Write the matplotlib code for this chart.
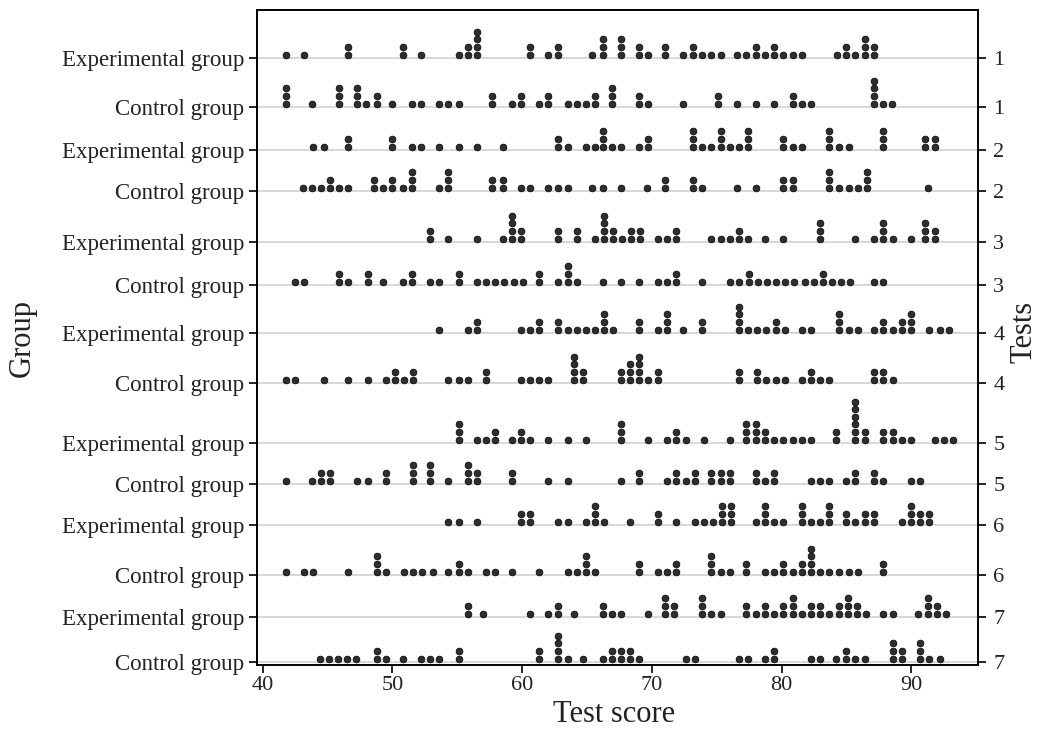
import matplotlib
matplotlib.use("Agg")
import matplotlib.pyplot as plt

plt.rcParams['font.family'] = ['Liberation Serif', 'DejaVu Serif']

# (score, number of stacked dots) for each row
exp1 = [(41.8, 1), (43.2, 1), (46.6, 2), (50.8, 2), (52.2, 1), (55.1, 1), (55.8, 2), (56.5, 4),
        (60.6, 2), (62.0, 1), (62.8, 2), (65.4, 1), (66.2, 3), (67.6, 3), (69.0, 2), (69.7, 1),
        (71.0, 2), (72.4, 1), (73.2, 2), (73.9, 1), (74.6, 1), (75.3, 1), (76.6, 1), (77.3, 1),
        (78.0, 2), (78.7, 1), (79.4, 2), (80.1, 1), (80.9, 1), (81.6, 1), (84.3, 1), (85.0, 2),
        (85.7, 1), (86.4, 3), (87.1, 2)]
ctl1 = [(41.8, 3), (43.8, 1), (45.9, 3), (47.3, 3), (48.0, 1), (48.8, 2), (50.0, 1), (51.5, 1),
        (52.2, 1), (53.6, 1), (54.3, 1), (55.1, 1), (57.7, 2), (59.2, 1), (59.9, 2), (61.3, 1),
        (62.0, 2), (63.5, 1), (64.2, 1), (64.9, 1), (65.6, 2), (66.9, 3), (69.0, 2), (69.7, 1),
        (72.4, 1), (75.1, 2), (76.6, 1), (78.0, 1), (79.4, 1), (80.9, 2), (81.6, 1), (82.3, 1),
        (87.1, 4), (87.8, 1), (88.5, 1)]
exp2 = [(43.9, 1), (44.7, 1), (46.6, 2), (50.0, 2), (51.5, 1), (52.2, 1), (53.6, 1), (55.1, 1),
        (56.5, 1), (58.5, 1), (62.8, 2), (63.5, 1), (64.9, 1), (65.6, 1), (66.2, 3), (66.9, 1),
        (67.6, 1), (69.0, 1), (69.7, 2), (73.2, 3), (73.9, 1), (74.6, 1), (75.3, 3), (76.0, 1),
        (76.7, 1), (77.4, 3), (80.1, 2), (80.9, 1), (81.6, 1), (83.7, 3), (84.4, 1), (85.2, 1),
        (87.8, 3), (91.1, 2), (91.8, 2)]
ctl2 = [(43.1, 1), (43.8, 1), (44.5, 1), (45.2, 2), (45.9, 1), (46.6, 1), (48.6, 2), (49.3, 1),
        (50.0, 2), (50.8, 1), (51.5, 3), (53.6, 1), (54.3, 3), (57.7, 2), (58.5, 2), (59.9, 1),
        (60.6, 1), (62.0, 1), (62.8, 1), (63.5, 1), (65.4, 1), (66.2, 1), (67.6, 1), (69.6, 1),
        (71.0, 2), (73.2, 2), (73.9, 1), (76.6, 1), (78.0, 1), (80.1, 2), (80.9, 2), (83.7, 3),
        (84.4, 1), (85.2, 1), (85.9, 1), (86.6, 3), (91.3, 1)]
exp3 = [(52.9, 2), (54.3, 1), (56.5, 1), (58.5, 1), (59.2, 4), (59.9, 2), (62.8, 2), (64.2, 2),
        (65.6, 1), (66.3, 4), (67.0, 2), (67.7, 1), (68.4, 2), (69.1, 2), (70.5, 1), (71.2, 1),
        (71.9, 2), (74.6, 1), (75.3, 1), (76.0, 1), (76.7, 2), (77.4, 1), (78.7, 1), (80.1, 1),
        (83.0, 3), (85.7, 1), (87.1, 1), (87.8, 3), (88.6, 1), (90.0, 1), (91.1, 3), (91.8, 2)]
ctl3 = [(42.5, 1), (43.2, 1), (45.9, 2), (46.6, 1), (48.1, 2), (49.3, 1), (50.8, 1), (51.5, 2),
        (52.9, 1), (53.6, 1), (55.1, 2), (56.5, 1), (57.2, 1), (57.9, 1), (58.6, 1), (59.4, 1),
        (60.1, 1), (61.3, 2), (62.8, 1), (63.5, 3), (64.2, 1), (66.2, 1), (67.6, 1), (69.0, 1),
        (70.5, 1), (71.2, 1), (71.9, 2), (73.9, 1), (76.0, 1), (76.7, 1), (77.5, 2), (78.2, 1),
        (78.9, 1), (79.6, 1), (80.3, 1), (81.0, 1), (81.8, 1), (82.5, 1), (83.2, 2), (83.9, 1),
        (84.6, 1), (85.3, 1), (87.1, 1), (87.8, 1)]
exp4 = [(53.6, 1), (55.8, 1), (56.5, 2), (59.9, 1), (60.6, 1), (61.3, 2), (62.8, 2), (63.5, 1),
        (64.2, 1), (64.9, 1), (65.6, 1), (66.3, 3), (67.0, 1), (69.0, 2), (70.5, 1), (71.2, 3),
        (72.4, 1), (73.9, 2), (76.7, 4), (77.4, 1), (78.1, 1), (78.8, 1), (79.6, 2), (80.3, 1),
        (81.6, 1), (82.3, 1), (84.4, 3), (85.2, 1), (85.9, 1), (87.1, 1), (87.8, 2), (88.6, 1),
        (89.3, 2), (90.0, 3), (91.4, 1), (92.2, 1), (92.9, 1)]
ctl4 = [(41.8, 1), (42.5, 1), (44.7, 1), (46.6, 1), (48.1, 1), (49.5, 1), (50.2, 2), (50.9, 1),
        (51.6, 2), (54.3, 1), (55.1, 1), (55.8, 1), (57.2, 2), (59.9, 1), (60.6, 1), (61.3, 1),
        (62.0, 1), (64.0, 4), (64.7, 2), (67.6, 2), (68.3, 3), (69.0, 4), (69.7, 1), (70.5, 2),
        (76.7, 2), (78.1, 2), (78.8, 1), (79.6, 1), (80.3, 1), (81.6, 1), (82.3, 2), (83.0, 1),
        (83.7, 1), (87.1, 2), (87.8, 2), (88.6, 1)]
exp5 = [(55.1, 3), (56.5, 1), (57.2, 1), (57.9, 2), (59.2, 1), (59.9, 2), (60.6, 1), (62.0, 1),
        (63.5, 1), (64.9, 1), (67.6, 3), (69.7, 1), (71.2, 1), (71.9, 2), (72.6, 1), (74.0, 1),
        (76.0, 1), (77.3, 3), (78.0, 3), (78.7, 2), (79.4, 1), (80.1, 1), (80.9, 1), (81.6, 1),
        (82.3, 1), (84.2, 2), (85.7, 6), (86.4, 2), (87.8, 2), (88.6, 2), (89.3, 1), (90.0, 1),
        (91.8, 1), (92.5, 1), (93.2, 1)]
ctl5 = [(41.8, 1), (43.8, 1), (44.5, 2), (45.2, 2), (47.3, 1), (48.1, 1), (49.5, 2), (51.6, 3),
        (52.9, 3), (54.3, 1), (55.8, 3), (56.5, 2), (59.2, 2), (62.0, 1), (63.5, 1), (67.6, 1),
        (69.0, 2), (71.2, 1), (71.9, 2), (72.6, 1), (73.3, 2), (74.6, 2), (75.3, 2), (76.0, 2),
        (78.0, 2), (78.7, 1), (79.4, 2), (82.3, 1), (83.0, 1), (83.7, 1), (85.0, 1), (85.7, 2),
        (87.1, 2), (87.8, 1), (90.0, 1), (90.7, 1)]
exp6 = [(54.3, 1), (55.1, 1), (56.5, 1), (59.9, 2), (60.6, 2), (62.8, 1), (63.5, 1), (64.9, 1),
        (65.6, 3), (66.3, 1), (68.3, 1), (70.5, 2), (71.9, 1), (73.3, 1), (74.0, 1), (74.7, 1),
        (75.4, 3), (76.1, 3), (78.0, 1), (78.7, 3), (79.4, 1), (80.1, 1), (81.6, 3), (82.3, 1),
        (83.0, 1), (83.7, 3), (85.0, 2), (85.7, 1), (86.4, 2), (87.1, 2), (89.3, 1), (90.0, 3),
        (90.7, 2), (91.4, 2)]
ctl6 = [(41.8, 1), (43.2, 1), (43.9, 1), (46.6, 1), (48.8, 3), (49.5, 1), (50.9, 1), (51.6, 1),
        (52.3, 1), (53.1, 1), (54.3, 1), (55.1, 2), (55.8, 1), (57.2, 1), (57.9, 1), (59.2, 1),
        (61.3, 1), (63.5, 1), (64.2, 1), (64.9, 3), (65.6, 1), (69.0, 2), (70.5, 1), (71.2, 1),
        (71.9, 2), (74.6, 3), (75.3, 1), (76.0, 1), (77.3, 2), (78.7, 1), (79.4, 1), (80.1, 2),
        (80.9, 1), (81.6, 2), (82.3, 4), (83.0, 1), (83.7, 1), (84.4, 1), (85.2, 1), (85.9, 1),
        (87.8, 2)]
exp7 = [(55.8, 2), (57.0, 1), (60.6, 1), (62.0, 1), (62.8, 2), (64.0, 1), (66.2, 2), (66.9, 1),
        (67.6, 1), (69.7, 1), (71.0, 3), (71.7, 2), (73.9, 3), (74.6, 1), (75.3, 1), (77.3, 2),
        (78.0, 1), (78.7, 2), (79.4, 1), (80.1, 2), (80.9, 3), (81.6, 1), (82.3, 2), (83.0, 2),
        (83.7, 1), (84.4, 2), (85.1, 3), (85.8, 2), (86.5, 1), (87.8, 1), (88.6, 1), (90.5, 1),
        (91.3, 3), (92.0, 2), (92.7, 1)]
ctl7 = [(44.4, 1), (45.1, 1), (45.8, 1), (46.5, 1), (47.2, 1), (48.8, 2), (49.5, 1), (50.8, 1),
        (52.2, 1), (52.9, 1), (53.6, 1), (55.1, 2), (61.3, 2), (62.8, 4), (63.5, 1), (64.7, 1),
        (66.2, 1), (66.9, 2), (67.6, 2), (68.3, 2), (69.0, 1), (72.6, 1), (73.3, 1), (76.7, 1),
        (77.4, 1), (78.7, 1), (79.4, 2), (82.3, 1), (83.0, 1), (84.2, 1), (85.0, 2), (85.7, 1),
        (86.4, 1), (88.6, 3), (89.3, 2), (90.7, 3), (91.4, 1), (92.2, 1)]

rows = [exp1, ctl1, exp2, ctl2, exp3, ctl3, exp4, ctl4, exp5, ctl5, exp6, ctl6, exp7, ctl7]
group_labels = ['Experimental group', 'Control group'] * 7
test_labels = ['1', '1', '2', '2', '3', '3', '4', '4', '5', '5', '6', '6', '7', '7']
x_ticks = [40, 50, 60, 70, 80, 90]

# row baselines, in pixels from the top of the figure
baselines = [58, 107, 150, 191, 242, 285, 333, 383, 443, 484, 525, 575, 617, 662]

W, H = 1043, 749
fig = plt.figure(figsize=(W / 100, H / 100), dpi=100)
top, bottom, left, right = 10, 665, 257, 978
ax = fig.add_axes([left / W, 1 - bottom / H, (right - left) / W, (bottom - top) / H])
ax.set_xlim(39.56, 95.15)
ax.set_ylim(bottom, top)

r = 3.4      # dot radius in px
step = 7.6   # vertical step between stacked dots
for base, row in zip(baselines, rows):
    ax.axhline(base, color='#d4d4d4', lw=1.3, zorder=1)
    xs, ys = [], []
    for x, n in row:
        for j in range(n):
            xs.append(x)
            ys.append(base - r - j * step)
    ax.scatter(xs, ys, s=24, c='#2e2e2e', edgecolors='black', linewidths=0.5, zorder=3)

txt = '#222222'
ax.set_xticks(x_ticks)
ax.set_xticklabels([str(t) for t in x_ticks], fontsize=16, color=txt)
ax.set_yticks(baselines)
ax.set_yticklabels(group_labels, fontsize=16.5, color=txt)
ax.tick_params(direction='out', length=6, width=1.2, pad=3)
ax.tick_params(axis='x', pad=2)

ax2 = ax.twinx()
ax2.set_ylim(ax.get_ylim())
ax2.set_yticks(baselines)
ax2.set_yticklabels(test_labels, fontsize=16, color=txt)
ax2.tick_params(direction='out', length=6, width=1.2, pad=5)

for a in (ax, ax2):
    for sp in a.spines.values():
        sp.set_linewidth(1.2)

fig.text(614 / W, 1 - 714 / H, 'Test score', fontsize=22, color=txt, ha='center', va='center')
fig.text(22 / W, 1 - 338 / H, 'Group', fontsize=22, color=txt, ha='center', va='center', rotation=90)
fig.text(1024 / W, 1 - 332 / H, 'Tests', fontsize=22, color=txt, ha='center', va='center', rotation=90)

fig.savefig('out.png', dpi=100)
